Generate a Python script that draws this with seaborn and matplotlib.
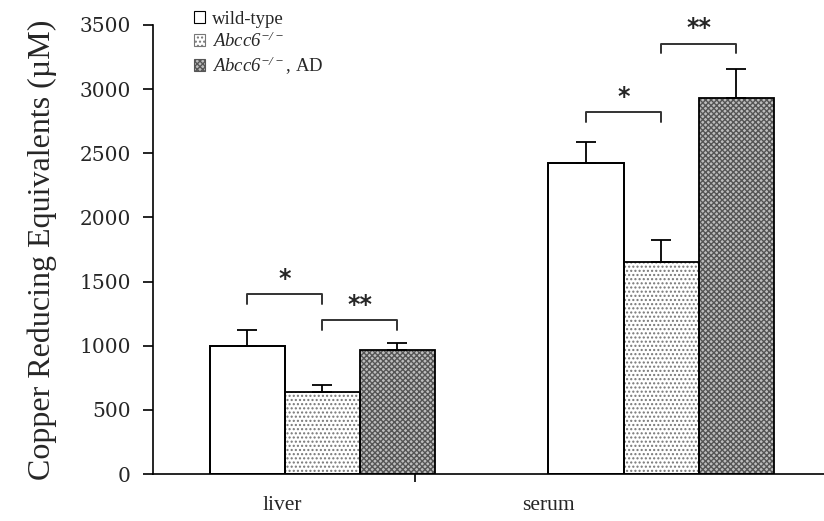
import matplotlib
matplotlib.use("Agg")
import matplotlib.pyplot as plt
from matplotlib.patches import Rectangle
import seaborn as sns
import pandas as pd
import numpy as np

# ---- data ----
tissues = ["liver", "serum"]
genotypes = ["wild-type", "Abcc6-/-", "Abcc6-/-, AD"]
liver_means = [1000, 640, 965]
serum_means = [2425, 1650, 2930]
liver_err = [122, 55, 55]
serum_err = [163, 172, 227]
yticks = [0, 500, 1000, 1500, 2000, 2500, 3000, 3500]
legend_labels = ["wild-type", r"$\mathsf{Abcc6}^{\mathsf{-/-}}$",
                 r"$\mathsf{Abcc6}^{\mathsf{-/-}}$, AD"]
# significance: (tissue index, hue i, hue j, bracket height, stars)
sig = [(0, 0, 1, 1400, "*"), (0, 1, 2, 1200, "**"),
       (1, 0, 1, 2820, "*"), (1, 1, 2, 3355, "**")]

df = pd.DataFrame({
    "tissue": np.repeat(tissues, len(genotypes)),
    "genotype": genotypes * len(tissues),
    "value": liver_means + serum_means,
    "err": liver_err + serum_err,
})

sns.set_style("white")
plt.rcParams["font.family"] = ["Liberation Serif", "DejaVu Serif"]
plt.rcParams["mathtext.fontset"] = "custom"
plt.rcParams["mathtext.rm"] = "Liberation Serif"
plt.rcParams["mathtext.it"] = "Liberation Serif:italic"
plt.rcParams["mathtext.sf"] = "Liberation Serif:italic"
plt.rcParams["mathtext.bf"] = "Liberation Serif:bold"
plt.rcParams["hatch.linewidth"] = 1.0

fig = plt.figure(figsize=(8.24, 5.21), dpi=100)
ax = fig.add_axes([153 / 824, 1 - 474 / 521, 1 - 153 / 824, (474 - 25) / 521])

faces = ["white", "white", "#bdbdbd"]
sns.barplot(data=df, x="tissue", y="value", hue="genotype", order=tissues,
            hue_order=genotypes, width=0.665, palette=faces, ax=ax,
            errorbar=None, legend=False, saturation=1)

hatches = [None, "....", "xxxxxx"]
hatch_cols = ["black", "#777777", "#555555"]
nt = len(tissues)
centers = {}
for k, p in enumerate(ax.patches[: nt * len(genotypes)]):
    h = k // nt
    t = k % nt
    x0, w, ht = p.get_x(), p.get_width(), p.get_height()
    centers[(t, h)] = x0 + w / 2
    if hatches[h]:
        p.set_hatch(hatches[h])
        p.set_edgecolor(hatch_cols[h])
        p.set_linewidth(0)
    else:
        p.set_edgecolor("black")
        p.set_linewidth(1.3)
    ax.add_patch(Rectangle((x0, 0), w, ht, fill=False, edgecolor="black",
                           linewidth=1.3, zorder=3))

# error bars (upper only)
for t, tissue in enumerate(tissues):
    sub = df[df.tissue == tissue]
    for h, g in enumerate(genotypes):
        row = sub[sub.genotype == g].iloc[0]
        ax.errorbar(centers[(t, h)], row.value, yerr=[[0], [row.err]],
                    fmt="none", ecolor="black", elinewidth=1.3, capsize=7,
                    capthick=1.3, zorder=4)

# significance brackets
for t, i, j, yb, s in sig:
    x1, x2 = centers[(t, i)], centers[(t, j)]
    ax.plot([x1, x1, x2, x2], [yb - 75, yb, yb, yb - 75], color="#333333",
            lw=1.4, zorder=5, clip_on=False)
    ax.text((x1 + x2) / 2, yb + 25, s, ha="center", va="bottom",
            fontsize=17, fontweight="bold", family="DejaVu Sans")

ax.set_ylim(0, 3500)
ax.set_xlim(-0.5, 1.481)
ax.set_yticks(yticks)
ax.set_yticklabels([str(v) for v in yticks], family="DejaVu Serif", fontsize=14.5)
ax.set_xticks([-0.117, 0.666])
ax.set_xticklabels(tissues, fontsize=15.5)
ax.set_xticks([0.273], minor=True)
ax.tick_params(axis="x", which="major", length=0, pad=16)
ax.tick_params(axis="x", which="minor", length=6, width=1.2, direction="out",
               bottom=True, color="black")
ax.tick_params(axis="y", length=7, width=1.2, direction="out", left=True,
               color="black", pad=9)
ax.set_xlabel("")
ax.set_ylabel("Copper Reducing Equivalents (µM)", fontsize=23, labelpad=16)
for sp in ["top", "right"]:
    ax.spines[sp].set_visible(False)
for sp in ["left", "bottom"]:
    ax.spines[sp].set_color("black")
    ax.spines[sp].set_linewidth(1.2)

# legend
handles = []
for h in range(len(genotypes)):
    handles.append(Rectangle((0, 0), 1, 1, facecolor=faces[h],
                             edgecolor=hatch_cols[h] if hatches[h] else "black",
                             hatch=hatches[h], linewidth=0.8))
leg = ax.legend(handles, legend_labels, loc="upper left",
                bbox_to_anchor=((186 - 153) / (824 - 153), 1 + 22 / 449),
                frameon=False, fontsize=13.5, handlelength=0.6, handleheight=0.6,
                handletextpad=0.4, labelspacing=0.2, borderaxespad=0)

fig.savefig("out.png", dpi=100)
